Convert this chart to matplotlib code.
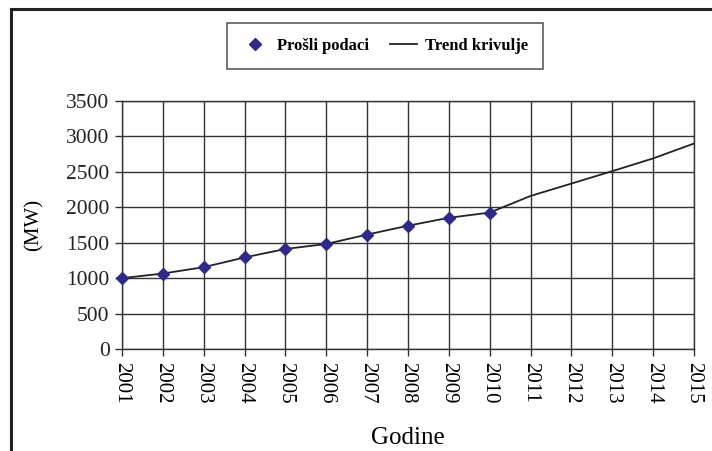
import matplotlib
matplotlib.use("Agg")
import matplotlib.pyplot as plt
from matplotlib.lines import Line2D

# past data (MW)
years = [2001, 2002, 2003, 2004, 2005, 2006, 2007, 2008, 2009, 2010]
past_mw = [1000, 1065, 1155, 1292, 1412, 1482, 1615, 1740, 1852, 1925]

# trend curve incl. forecast
trend_years = list(range(2001, 2016))
trend_mw = [1000, 1065, 1155, 1292, 1412, 1482, 1615, 1740, 1852, 1925,
            2160, 2335, 2510, 2690, 2900]

y_ticks = [0, 500, 1000, 1500, 2000, 2500, 3000, 3500]

plt.rcParams['font.family'] = ['Liberation Serif', 'DejaVu Serif']

fig = plt.figure(figsize=(7.12, 4.51), dpi=100)
ax = fig.add_axes([122/712, 1 - 349/451, (694 - 122)/712, (349 - 101)/451])

ax.plot(trend_years, trend_mw, '-', color='#222222', lw=1.3, label='Trend krivulje', zorder=3)
ax.plot(years, past_mw, 'D', color='#2e2a87', markersize=6.5, ls='none',
        label='Prošli podaci', zorder=4, clip_on=False)

ax.set_xlim(2001, 2015)
ax.set_ylim(0, 3500)
ax.set_xticks(trend_years)
ax.set_xticklabels([str(y) for y in trend_years], rotation=270, fontsize=15)
ax.set_yticks(y_ticks)
ax.set_yticklabels([str(v) for v in y_ticks], fontsize=15.5, color='#222222')
ax.tick_params(axis='both', direction='out', length=5, width=1, color='#333333')
ax.tick_params(axis='x', pad=4)
ax.tick_params(axis='y', pad=4)
ax.grid(True, color='#333333', lw=1)
for s in ax.spines.values():
    s.set_color('#333333')
    s.set_linewidth(1)

ax.set_xlabel('Godine', fontsize=18, labelpad=17)
ax.set_ylabel('(MW)', fontsize=15, labelpad=16)

handles, labels = ax.get_legend_handles_labels()
leg = fig.legend(handles[::-1], labels[::-1], loc='center', ncol=2,
                 bbox_to_anchor=(385/712, 1 - 46/451), frameon=True, fancybox=False,
                 edgecolor='#222222', prop={'weight': 'bold', 'size': 12},
                 handlelength=1.6, columnspacing=1.3, handletextpad=0.5,
                 borderpad=0.9)
leg.get_frame().set_linewidth(1.1)

# outer frame lines (top and left)
fig.add_artist(Line2D([11/712, 1], [1 - 9/451, 1 - 9/451], color='#222222', lw=2.2,
                      transform=fig.transFigure))
fig.add_artist(Line2D([11/712, 11/712], [0, 1 - 9/451], color='#222222', lw=2.2,
                      transform=fig.transFigure))

fig.savefig('out.png', dpi=100)
